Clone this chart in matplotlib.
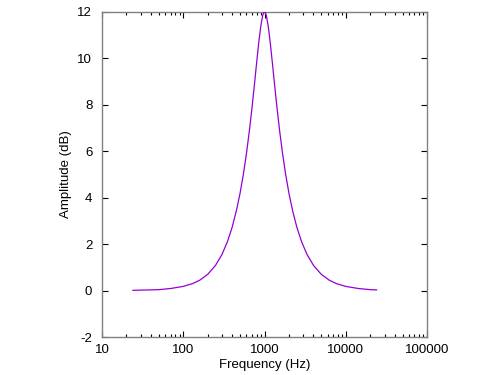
import matplotlib
matplotlib.use("Agg")
import matplotlib.pyplot as plt
from matplotlib.ticker import LogLocator, FixedLocator, FixedFormatter, NullFormatter

plt.rcParams['font.family'] = ['Liberation Sans', 'DejaVu Sans']

freq_hz = [24, 30, 40, 50, 70, 100, 130, 160, 200, 250, 300, 350, 400, 450, 500,
           550, 600, 650, 700, 750, 800, 850, 900, 950, 975, 1000, 1026,
           1053, 1111, 1176, 1250, 1333, 1429, 1538, 1667, 1818, 2000, 2222,
           2500, 2857, 3333, 4000, 5000, 6250, 7692, 10000, 14286, 20000, 24000]
amp_db = [0.01, 0.02, 0.03, 0.04, 0.09, 0.18, 0.30, 0.45, 0.70, 1.09, 1.56, 2.11,
          2.73, 3.43, 4.19, 5.02, 5.91, 6.86, 7.84, 8.84, 9.81, 10.69, 11.39, 11.85,
          11.96, 12.0, 11.96,
          11.85, 11.39, 10.69, 9.81, 8.84, 7.84, 6.86, 5.91, 5.02, 4.19, 3.43,
          2.73, 2.11, 1.56, 1.09, 0.70, 0.45, 0.30, 0.18, 0.09, 0.04, 0.03]

x_ticks = [10, 100, 1000, 10000, 100000]
x_tick_labels = ["10", "100", "1000", "10000", "100000"]
y_ticks = [-2, 0, 2, 4, 6, 8, 10, 12]
y_tick_labels = ["-2", "0", "2", "4", "6", "8", "10", "12"]

fig = plt.figure(figsize=(5, 3.75), dpi=100)
ax = fig.add_axes([0.204, 0.1013, 0.650, 0.8667])

ax.plot(freq_hz, amp_db, color="#9400d3", linewidth=0.9, zorder=3)

ax.set_xscale("log")
ax.set_xlim(10, 100000)
ax.set_ylim(-2, 12)

ax.xaxis.set_major_locator(FixedLocator(x_ticks))
ax.xaxis.set_major_formatter(FixedFormatter(x_tick_labels))
ax.xaxis.set_minor_locator(LogLocator(base=10, subs=range(2, 10)))
ax.xaxis.set_minor_formatter(NullFormatter())
ax.yaxis.set_major_locator(FixedLocator(y_ticks))
ax.yaxis.set_major_formatter(FixedFormatter(y_tick_labels))

ax.tick_params(which="both", direction="in", top=True, right=True, color="black",
               labelsize=9.5, labelcolor="black")
ax.tick_params(which="major", length=4.5, width=0.8, pad=5)
ax.tick_params(which="minor", length=2.5, width=0.8)
ax.tick_params(axis="y", which="major", pad=7)

for s in ax.spines.values():
    s.set_color("#808080")
    s.set_linewidth(1.0)

ax.set_xlabel("Frequency (Hz)", fontsize=9.5, labelpad=2)
ax.set_ylabel("Amplitude (dB)", fontsize=9.5, labelpad=4)

fig.savefig("out.png", dpi=100)
